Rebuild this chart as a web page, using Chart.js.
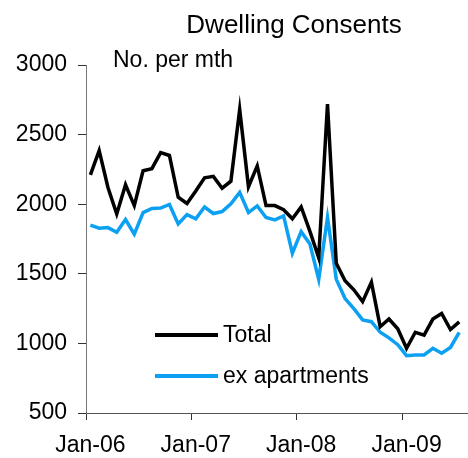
<!DOCTYPE html>
<html>
<head>
<meta charset="utf-8">
<script src="https://cdn.jsdelivr.net/npm/chart.js@4.4.1/dist/chart.umd.min.js"></script>
<style>
  html, body { margin: 0; padding: 0; background: #fff; }
  #wrap { width: 468px; height: 458px; position: relative; }
</style>
</head>
<body>
<div id="wrap"><canvas id="c" width="468" height="458"></canvas></div>
<script>
// Monthly dwelling consents, Jan 2006 - Jul 2009
const firstYear = 2006;
const monthCount = 43;
const tickLabels = ['Jan-06', 'Jan-07', 'Jan-08', 'Jan-09'];

const total = [2210, 2385, 2120, 1930, 2140, 1990, 2240, 2255, 2370, 2350, 2050, 2005,
               2095, 2190, 2200, 2115, 2165, 2680, 2125, 2275, 1990, 1990, 1960, 1895,
               1980, 1805, 1615, 2720, 1575, 1450, 1385, 1300, 1440, 1120, 1175, 1105,
               965, 1080, 1060, 1175, 1215, 1100, 1155];
const exApartments = [1850, 1828, 1832, 1798, 1890, 1785, 1940, 1970, 1972, 1998, 1858, 1925,
                      1895, 1980, 1933, 1947, 2003, 2085, 1940, 1988, 1904, 1887, 1916, 1648,
                      1803, 1714, 1460, 1904, 1460, 1322, 1250, 1169, 1156, 1080, 1040, 991,
                      912, 917, 917, 965, 929, 971, 1080];

const seriesNames = ['Total', 'ex apartments'];
const seriesColors = ['#000000', '#0ca0f2'];

const FONT = '"Liberation Sans", Arial, sans-serif';

// each month sits in the middle of its slot on a month-index axis
const toPoints = arr => arr.map((v, i) => ({ x: i + 0.5, y: v }));

const textPlugin = {
  id: 'texts',
  afterDraw(chart) {
    const ctx = chart.ctx;
    ctx.save();
    ctx.fillStyle = '#000';
    ctx.textBaseline = 'alphabetic';
    ctx.font = '26px ' + FONT;
    ctx.textAlign = 'center';
    ctx.fillText('Dwelling Consents', 294, 33);
    ctx.font = '23px ' + FONT;
    ctx.textAlign = 'left';
    ctx.fillText('No. per mth', 113, 67);

    // legend inside the plot
    const rows = [335, 376];
    chart.data.datasets.forEach((ds, k) => {
      const y = rows[k];
      ctx.strokeStyle = ds.borderColor;
      ctx.lineWidth = 4;
      ctx.beginPath();
      ctx.moveTo(155, y);
      ctx.lineTo(218, y);
      ctx.stroke();
      ctx.fillStyle = '#000';
      ctx.textBaseline = 'middle';
      ctx.font = '23px ' + FONT;
      ctx.fillText(ds.label, 223, y + 1);
    });
    ctx.restore();
  }
};

new Chart(document.getElementById('c'), {
  type: 'line',
  data: {
    datasets: [
      { label: seriesNames[0], data: toPoints(total), borderColor: seriesColors[0], borderWidth: 3.5,
        pointRadius: 0, tension: 0, fill: false },
      { label: seriesNames[1], data: toPoints(exApartments), borderColor: seriesColors[1], borderWidth: 3.5,
        pointRadius: 0, tension: 0, fill: false }
    ]
  },
  options: {
    responsive: false,
    animation: false,
    devicePixelRatio: 1,
    layout: { padding: { top: 65, left: 0, right: 0, bottom: 0 } },
    plugins: { legend: { display: false }, title: { display: false }, tooltip: { enabled: false } },
    scales: {
      x: {
        type: 'linear',
        min: 0,
        max: monthCount + 0.5,
        afterBuildTicks: s => { s.ticks = tickLabels.map((_, k) => ({ value: k * 12 })); },
        afterFit: s => { s.height = 45; },
        ticks: {
          autoSkip: false,
          maxRotation: 0,
          labelOffset: 4.4,
          padding: 12,
          color: '#000',
          font: { family: FONT, size: 23 },
          callback: (v) => tickLabels[Math.round(v / 12)] ?? ''
        },
        grid: { drawOnChartArea: false, drawTicks: true, tickLength: 7, color: '#333', lineWidth: 1 },
        border: { display: true, color: '#555', width: 1 }
      },
      y: {
        min: 500,
        max: 3000,
        afterFit: s => { s.width = 86; },
        ticks: {
          stepSize: 500,
          padding: 11,
          color: '#000',
          font: { family: FONT, size: 23 },
          callback: (v) => String(v)
        },
        grid: { drawOnChartArea: false, drawTicks: true, tickLength: 8, color: '#333', lineWidth: 1 },
        border: { display: true, color: '#777', width: 1 }
      }
    }
  },
  plugins: [textPlugin]
});
</script>
</body>
</html>
